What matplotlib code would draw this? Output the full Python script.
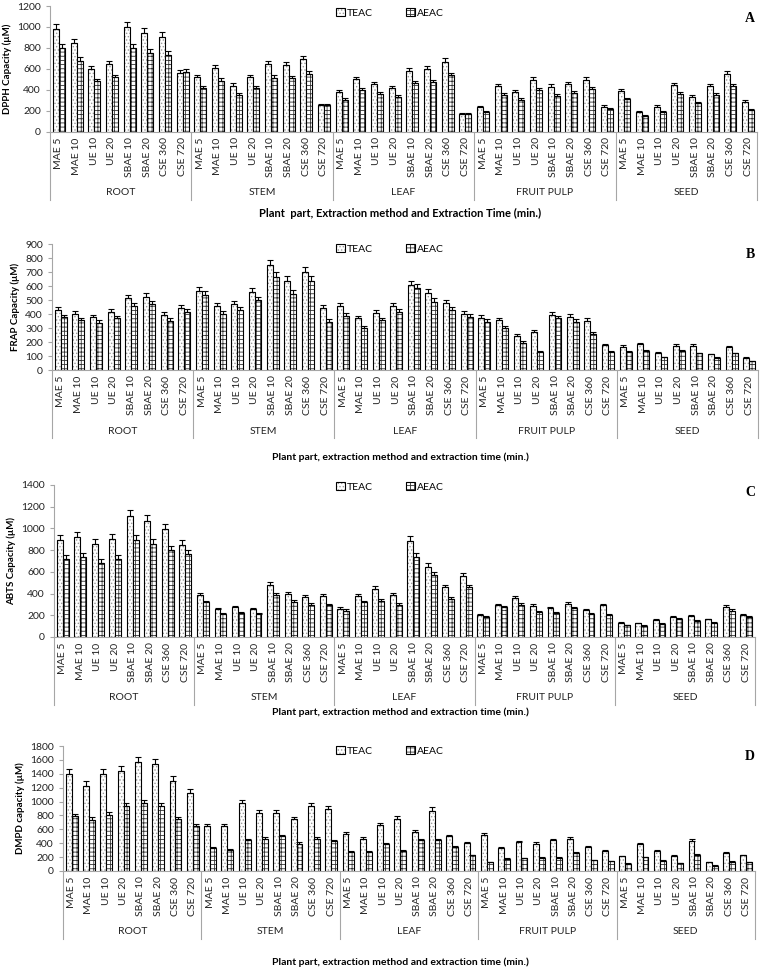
import matplotlib
matplotlib.use("Agg")
import matplotlib.pyplot as plt
import numpy as np
from matplotlib.patches import Patch
from matplotlib.legend_handler import HandlerTuple

plt.rcParams['font.family'] = ['Lato', 'DejaVu Sans']
plt.rcParams['hatch.linewidth'] = 0.6

parts = ["ROOT", "STEM", "LEAF", "FRUIT PULP", "SEED"]
methods = ["MAE 5", "MAE 10", "UE 10", "UE 20", "SBAE 10", "SBAE 20", "CSE 360", "CSE 720"]

# values, 8 methods per plant part
dpph_teac = [980, 845, 595, 645, 1000, 940, 905, 565,
             520, 605, 440, 520, 643, 637, 691, 255,
             382, 500, 452, 420, 580, 595, 668, 169,
             233, 436, 376, 494, 430, 455, 494, 239,
             389, 188, 239, 443, 334, 436, 548, 286]
dpph_aeac = [800, 675, 480, 520, 800, 755, 730, 570,
             420, 485, 355, 420, 515, 510, 551, 255,
             303, 398, 363, 334, 462, 474, 538, 169,
             185, 350, 303, 398, 341, 366, 405, 220,
             309, 150, 188, 360, 271, 350, 436, 207]

frap_teac = [429, 400, 376, 417, 512, 524, 393, 445,
             567, 457, 471, 560, 750, 638, 698, 445,
             457, 369, 405, 457, 607, 548, 476, 398,
             374, 357, 243, 274, 393, 381, 352, 179,
             167, 183, 124, 174, 174, 112, 162, 88]
frap_aeac = [376, 357, 338, 369, 457, 471, 352, 417,
             536, 400, 429, 500, 667, 543, 638, 345,
             386, 298, 357, 417, 583, 488, 429, 381,
             345, 298, 195, 131, 369, 345, 257, 131,
             131, 136, 90, 136, 119, 88, 119, 64]

abts_teac = [894, 919, 858, 900, 1115, 1069, 995, 848,
             389, 257, 276, 257, 481, 398, 368, 380,
             260, 374, 444, 383, 885, 649, 456, 564,
             205, 291, 358, 288, 266, 303, 245, 291,
             132, 126, 156, 187, 190, 162, 279, 202]
abts_aeac = [720, 735, 680, 720, 894, 858, 802, 763,
             318, 211, 220, 212, 383, 322, 297, 291,
             242, 318, 334, 297, 741, 573, 349, 456,
             184, 276, 297, 230, 220, 266, 214, 199,
             107, 104, 123, 168, 150, 129, 242, 187]

dmpd_teac = [1398, 1230, 1398, 1446, 1565, 1537, 1302, 1120,
             641, 641, 977, 833, 833, 747, 929, 895,
             536, 460, 665, 752, 565, 871, 498, 402,
             517, 326, 412, 393, 440, 464, 340, 292,
             211, 388, 282, 220, 436, 124, 258, 225]
dmpd_aeac = [785, 737, 809, 938, 977, 938, 747, 641,
             330, 306, 440, 460, 498, 393, 460, 426,
             268, 273, 388, 282, 440, 440, 345, 225,
             124, 172, 182, 187, 191, 258, 153, 139,
             105, 196, 148, 115, 230, 77, 134, 129]

# approximate relative size of the error bars
err_frac = 0.05

panels = [
    dict(teac=dpph_teac, aeac=dpph_aeac, ymax=1200, step=200, ylabel="DPPH Capacity (\u00b5M)",
         letter="A", xtitle="Plant  part, Extraction method and Extraction Time (min.)",
         px=(50, 757, 6, 131.7), title_y=213, title_fs=8, legend_y=13),
    dict(teac=frap_teac, aeac=frap_aeac, ymax=900, step=100, ylabel="FRAP Capacity (\u00b5M)",
         letter="B", xtitle="Plant part, extraction method and extraction time (min.)",
         px=(52, 758, 244, 370), title_y=457, title_fs=7.5, legend_y=249),
    dict(teac=abts_teac, aeac=abts_aeac, ymax=1400, step=200, ylabel="ABTS Capacity (\u00b5M)",
         letter="C", xtitle="Plant part, extraction method and extraction time (min.)",
         px=(54, 755, 485, 637), title_y=712, title_fs=7.5, legend_y=487),
    dict(teac=dmpd_teac, aeac=dmpd_aeac, ymax=1800, step=200, ylabel="DMPD capacity (\u00b5M)",
         letter="D", xtitle="Plant part, extraction method and extraction time (min.)",
         px=(63, 755, 746, 871), title_y=962, title_fs=7.5, legend_y=751),
]

W, H = 762, 969
fig = plt.figure(figsize=(W / 100, H / 100), dpi=100)

labels = [m for p in parts for m in methods]
x = np.arange(len(labels))
w = 0.34
grey = "#a6a6a6"

for pn in panels:
    l, r, t, b = pn["px"]
    ax = fig.add_axes([l / W, 1 - b / H, (r - l) / W, (b - t) / H])
    hpx = b - t
    teac = np.array(pn["teac"], dtype=float)
    aeac = np.array(pn["aeac"], dtype=float)

    ax.bar(x - w / 2, teac, w, color="white", edgecolor="#9a9a9a", hatch=".....", lw=0)
    ax.bar(x - w / 2, teac, w, fill=False, edgecolor="black", lw=0.8)
    ax.bar(x + w / 2, aeac, w, color="white", edgecolor="#333333", hatch="++++", lw=0)
    ax.bar(x + w / 2, aeac, w, fill=False, edgecolor="black", lw=0.8)

    ax.errorbar(x - w / 2, teac, yerr=[np.zeros_like(teac), teac * err_frac], fmt="none",
                ecolor="black", elinewidth=0.8, capsize=2.5, capthick=0.8)
    ax.errorbar(x + w / 2, aeac, yerr=[np.zeros_like(aeac), aeac * err_frac], fmt="none",
                ecolor="black", elinewidth=0.8, capsize=2.5, capthick=0.8)

    ax.set_xlim(-0.5, len(labels) - 0.5)
    ax.set_ylim(0, pn["ymax"])
    ax.set_yticks(np.arange(0, pn["ymax"] + 1, pn["step"]))
    ax.set_xticks(x)
    ax.set_xticklabels(labels, rotation=90, fontsize=7.5, color="#222222")
    ax.tick_params(axis="x", length=0, pad=4)
    ax.tick_params(axis="y", labelsize=7.5, length=3, color=grey, labelcolor="#222222")
    ax.set_ylabel(pn["ylabel"], fontsize=7, fontweight="bold", labelpad=4)

    for s in ["top", "right"]:
        ax.spines[s].set_visible(False)
    for s in ["left", "bottom"]:
        ax.spines[s].set_color(grey)
        ax.spines[s].set_linewidth(0.8)

    # group separators and group names
    for k in range(len(parts) + 1):
        xs = -0.5 + 8 * k
        ax.plot([xs, xs], [0, -68 / hpx], color=grey, lw=0.8, clip_on=False,
                transform=ax.get_xaxis_transform())
    for k, p in enumerate(parts):
        ax.text(3.5 + 8 * k, -61 / hpx, p, ha="center", va="center", fontsize=7.5,
                color="#222222", transform=ax.get_xaxis_transform())

    fig.text(400 / W, 1 - pn["title_y"] / H, pn["xtitle"], ha="center", va="center",
             fontsize=pn["title_fs"], fontweight="bold")
    fig.text(750 / W, 1 - (pn["legend_y"] + 6) / H, pn["letter"], ha="center", va="center",
             fontsize=10, fontweight="bold", family="Liberation Serif")

    h1 = (Patch(facecolor="white", edgecolor="#9a9a9a", hatch=".....", lw=0),
          Patch(fill=False, edgecolor="black", lw=0.8))
    h2 = (Patch(facecolor="white", edgecolor="#333333", hatch="++++", lw=0),
          Patch(fill=False, edgecolor="black", lw=0.8))
    fig.legend([h1, h2], ["TEAC", "AEAC"], handler_map={tuple: HandlerTuple(ndivide=1)},
               loc="center", bbox_to_anchor=(390 / W, 1 - pn["legend_y"] / H), ncol=2,
               frameon=False, fontsize=7.5, handlelength=0.8, handleheight=0.8,
               handletextpad=0.2, columnspacing=3.2, borderpad=0)

fig.savefig("out.png", dpi=100)
